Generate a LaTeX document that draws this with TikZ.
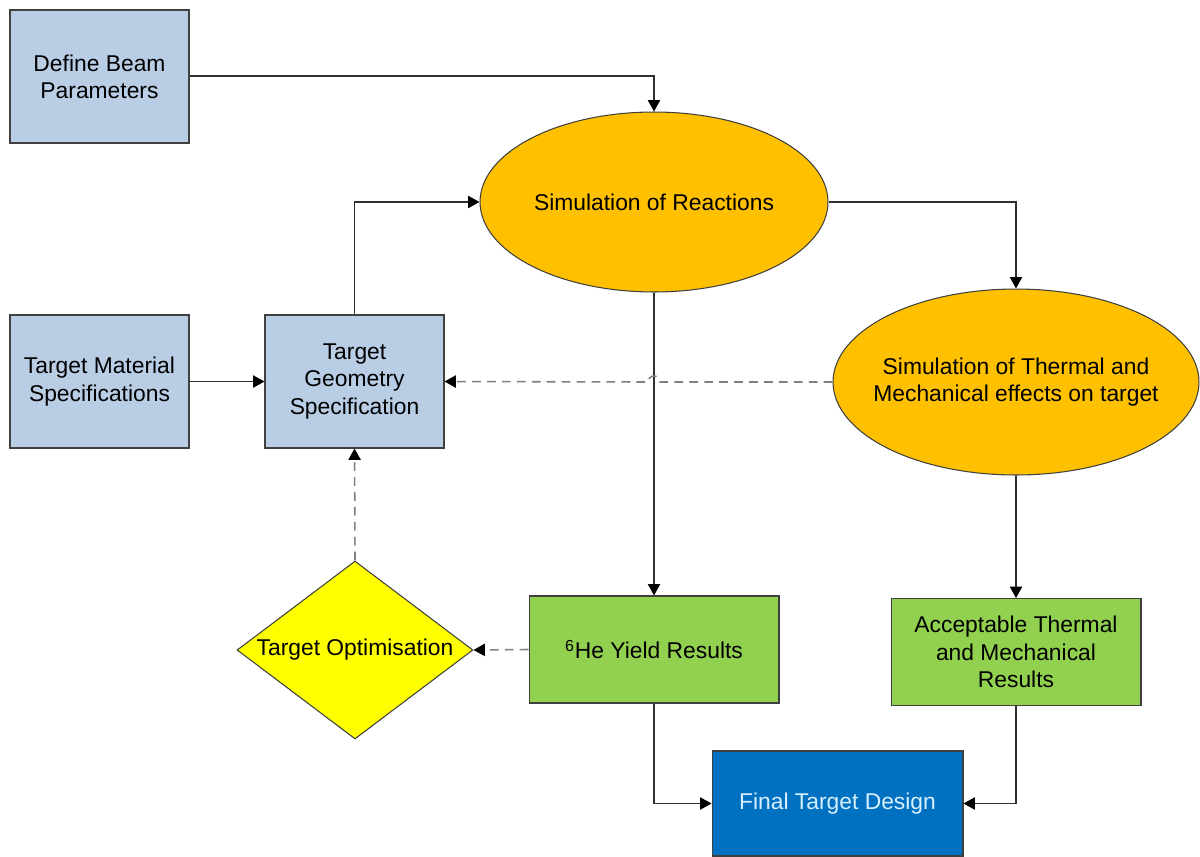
\documentclass[tikz,border=0pt]{standalone}
\usepackage{fontspec}
\setmainfont{Liberation Sans}
\usetikzlibrary{shapes.geometric,arrows.meta,calc}
\definecolor{boxblue}{HTML}{B9CDE5}
\definecolor{ellorange}{HTML}{FFC000}
\definecolor{resgreen}{HTML}{92D050}
\definecolor{optyellow}{HTML}{FFFF00}
\definecolor{finalblue}{HTML}{0070C0}
\definecolor{finaltext}{HTML}{D6F0FF}
\definecolor{edgegray}{HTML}{404040}
\definecolor{linegray}{HTML}{303030}
\definecolor{dashgray}{HTML}{808080}
\begin{document}
\begin{tikzpicture}[x=0.02cm,y=-0.02cm,
  font=\fontsize{13}{15.5}\selectfont,
  every node/.style={align=center, text=black},
  inbox/.style={rectangle, draw=edgegray, line width=0.6pt, fill=boxblue, minimum width=3.58cm, minimum height=2.66cm, inner sep=2pt},
  greenbox/.style={rectangle, draw=edgegray, line width=0.6pt, fill=resgreen, minimum width=5cm, minimum height=2.14cm, inner sep=2pt},
  simell/.style={ellipse, draw=edgegray, line width=0.6pt, fill=ellorange, inner xsep=-0.6cm, inner ysep=0pt},
  tip/.style={-{Triangle[length=6.5pt,width=7pt,color=black,fill=black]}},
  conn/.style={draw=linegray, line width=0.7pt, tip},
  dconn/.style={draw=dashgray, line width=0.9pt, dash pattern=on 5pt off 3.5pt, tip}
]
\useasboundingbox (0,0) rectangle (1200,856);

\node[inbox] (beam) at (99.5,76.5) {Define Beam\\Parameters};
\node[inbox] (mat) at (99.5,381.5) {Target Material\\Specifications};
\node[inbox] (geo) at (354.5,381.5) {Target\\Geometry\\Specification};
\node[simell, minimum width=6.96cm, minimum height=3.6cm] (reac) at (654,202) {Simulation of Reactions};
\node[simell, minimum width=7.32cm, minimum height=3.72cm] (therm) at (1016,382) {Simulation of Thermal and\\Mechanical effects on target};
\node[diamond, draw=edgegray, line width=0.6pt, fill=optyellow, aspect=1.33, inner sep=0pt, minimum width=4.72cm, minimum height=3.56cm] (opt) at (355,650) {Target Optimisation};
\node[greenbox] (yield) at (654,649.5) {\textsuperscript{6}He Yield Results};
\node[greenbox] (accept) at (1016,652) {Acceptable Thermal\\and Mechanical\\Results};
\node[rectangle, draw=edgegray, line width=0.6pt, fill=finalblue, minimum width=5.02cm, minimum height=2.1cm, text=finaltext] (final) at (837.5,803.5) {Final Target Design};

% solid connectors
\draw[conn] (beam.east |- 0,76) -- (654,76) -- (reac.north);
\draw[conn] (geo.north) -- (geo.north |- reac.west) -- (reac.west);
\draw[conn] (reac.east) -- (reac.east -| therm.north) -- (therm.north);
\draw[conn] (mat.east) -- (geo.west);
\draw[conn] (reac.south) -- (reac.south |- yield.north);
\draw[conn] (therm.south) -- (therm.south |- accept.north);
\draw[conn] (yield.south) -- (yield.south |- final.west) -- (final.west);
\draw[conn] (accept.south) -- (accept.south |- final.east) -- (final.east);

% dashed connectors
\coordinate (hopr) at ($(reac.south |- therm.west)+(0.12cm,0)$);
\draw[dconn] (therm.west) -- (hopr) arc[start angle=0,end angle=180,radius=0.12cm] -- (geo.east);
\draw[dconn] (yield.west) -- (opt.east);
\draw[dconn] (opt.north) -- (geo.south);
\end{tikzpicture}
\end{document}
